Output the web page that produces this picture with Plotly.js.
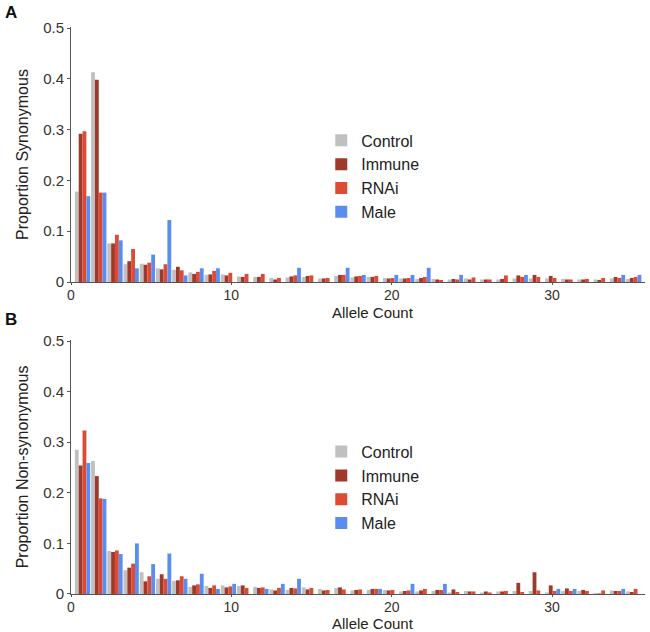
<!DOCTYPE html>
<html>
<head>
<meta charset="utf-8">
<script src="https://cdn.plot.ly/plotly-3.0.1.min.js"></script>
<style>html,body{margin:0;padding:0;background:#fff;}#chart{width:650px;height:632px;}</style>
</head>
<body>
<div id="chart"></div>
<script>
// ---- Data ----
const alleleCounts = [1,2,3,4,5,6,7,8,9,10,11,12,13,14,15,16,17,18,19,20,21,22,23,24,25,26,27,28,29,30,31,32,33,34,35];
const seriesNames = ["Control", "Immune", "RNAi", "Male"];

// Panel A: Proportion Synonymous
const synControl = [0.178,0.413,0.076,0.035,0.036,0.027,0.024,0.019,0.014,0.015,0.011,0.010,0.008,0.009,0.010,0.007,0.012,0.009,0.010,0.008,0.007,0.006,0.006,0.005,0.007,0.005,0.005,0.007,0.007,0.007,0.006,0.005,0.005,0.007,0.006];
const synImmune  = [0.292,0.398,0.076,0.041,0.034,0.025,0.030,0.016,0.015,0.013,0.010,0.010,0.005,0.011,0.012,0.007,0.014,0.011,0.010,0.007,0.007,0.008,0.005,0.006,0.005,0.005,0.006,0.013,0.014,0.012,0.005,0.005,0.004,0.010,0.008];
const synRNAi    = [0.297,0.176,0.093,0.065,0.038,0.035,0.023,0.020,0.022,0.018,0.016,0.016,0.008,0.013,0.013,0.008,0.014,0.012,0.012,0.008,0.008,0.010,0.004,0.005,0.009,0.005,0.013,0.010,0.010,0.008,0.005,0.006,0.008,0.008,0.010];
const synMale    = [0.169,0.176,0.082,0.027,0.054,0.122,0.013,0.027,0.027,0,0,0,0,0.028,0,0,0.028,0.014,0,0.014,0.014,0.028,0,0.014,0,0,0,0.014,0,0,0,0,0,0.014,0.014];

// Panel B: Proportion Non-synonymous
const nonControl = [0.285,0.263,0.085,0.047,0.043,0.030,0.026,0.014,0.016,0.017,0.016,0.014,0.009,0.008,0.013,0.010,0.012,0.007,0.008,0.008,0.005,0.005,0.006,0.003,0.006,0.003,0.005,0.006,0.006,0.003,0.006,0.006,0.002,0.007,0.005];
const nonImmune  = [0.254,0.233,0.083,0.052,0.025,0.039,0.027,0.017,0.012,0.013,0.017,0.012,0.007,0.012,0.009,0.007,0.013,0.008,0.010,0.007,0.006,0.007,0.008,0.009,0.005,0.005,0.005,0.022,0.043,0.017,0.011,0.008,0.001,0.006,0.004];
const nonRNAi    = [0.323,0.189,0.086,0.060,0.035,0.030,0.035,0.019,0.017,0.015,0.012,0.013,0.012,0.011,0.012,0.008,0.009,0.009,0.010,0.008,0.007,0.010,0.008,0.004,0.005,0.003,0.006,0.004,0.007,0.006,0.006,0.006,0.007,0.006,0.010];
const nonMale    = [0.259,0.188,0.079,0.100,0.059,0.080,0.030,0.040,0.010,0.020,0,0.010,0.020,0.030,0,0,0,0,0.010,0,0.020,0,0.020,0,0,0,0,0,0,0.010,0.010,0,0,0.010,0];

const xTickVals = [0, 10, 20, 30];
const xTickText = ["0", "10", "20", "30"];
const yTickVals = [0, 0.1, 0.2, 0.3, 0.4, 0.5];
const yTickText = ["0", "0.1", "0.2", "0.3", "0.4", "0.5"];
const xTitle = "Allele Count";
const yTitleA = "Proportion Synonymous";
const yTitleB = "Proportion Non-synonymous";

// ---- Styling ----
const colors = ["#c0c0c0", "#9e3a2b", "#dc4b34", "#5b8cf0"];
const FONT = "Liberation Sans, Arial, sans-serif";

// group centres on the allele axis (groups sit slightly left of the integer)
const xPos = alleleCounts.map(k => 0.72 + (k - 1) * 1.011);

const synSeries = [synControl, synImmune, synRNAi, synMale];
const nonSeries = [nonControl, nonImmune, nonRNAi, nonMale];

const traces = [];
seriesNames.forEach((name, i) => {
  traces.push({
    type: "bar", name: name, x: xPos, y: synSeries[i],
    xaxis: "x", yaxis: "y", legend: "legend",
    marker: {color: colors[i], line: {width: 0}},
    hoverinfo: "skip"
  });
});
seriesNames.forEach((name, i) => {
  traces.push({
    type: "bar", name: name, x: xPos, y: nonSeries[i],
    xaxis: "x2", yaxis: "y2", legend: "legend2",
    marker: {color: colors[i], line: {width: 0}},
    hoverinfo: "skip"
  });
});

function xAxis(anchor) {
  return {
    anchor: anchor, domain: [0, 1], range: [0, 35.8],
    tickvals: xTickVals, ticktext: xTickText,
    showgrid: false, zeroline: false, showline: true,
    linecolor: "#555", linewidth: 1,
    ticks: "outside", ticklen: 2, tickcolor: "#555", ticklabelstandoff: -2,
    tickfont: {family: FONT, size: 14, color: "#333"},
    automargin: false, fixedrange: true
  };
}
function yAxis(anchor, domain, title) {
  return {
    anchor: anchor, domain: domain, range: [0, 0.502],
    tickvals: yTickVals, ticktext: yTickText,
    showgrid: false, zeroline: false, showline: true,
    linecolor: "#555", linewidth: 1,
    ticks: "outside", ticklen: 3, tickcolor: "#555",
    tickfont: {family: FONT, size: 15, color: "#333"},
    title: {text: title, font: {family: FONT, size: 16, color: "#222"}, standoff: 10},
    automargin: false, fixedrange: true
  };
}

const legendStyle = {
  xanchor: "left", yanchor: "top",
  bgcolor: "rgba(0,0,0,0)", borderwidth: 0,
  font: {family: FONT, size: 16, color: "#222"},
  traceorder: "normal"
};

const titleFont = {family: FONT, size: 15, color: "#222"};

const layout = {
  width: 650, height: 632,
  margin: {l: 71, r: 5, t: 20, b: 8},
  paper_bgcolor: "#fff", plot_bgcolor: "#fff",
  barmode: "group", bargap: 0.055, bargroupgap: 0,
  showlegend: true,
  xaxis: xAxis("y"),
  yaxis: yAxis("x", [0.5662, 0.9884], yTitleA),
  xaxis2: xAxis("y2"),
  yaxis2: yAxis("x2", [0.0497, 0.4702], yTitleB),
  legend: Object.assign({x: 0.436, y: 0.8287}, legendStyle),
  legend2: Object.assign({x: 0.436, y: 0.3134}, legendStyle),
  annotations: [
    {text: xTitle, xref: "paper", yref: "paper", x: 0.526, y: 0.5315, xanchor: "center", yanchor: "top",
     showarrow: false, font: titleFont, borderpad: 0},
    {text: xTitle, xref: "paper", yref: "paper", x: 0.526, y: 0.0166, xanchor: "center", yanchor: "top",
     showarrow: false, font: titleFont, borderpad: 0},
    {text: "<b>A</b>", xref: "paper", yref: "paper", x: -0.105, y: 1.0128, xanchor: "center", yanchor: "middle",
     showarrow: false, font: {family: FONT, size: 17, color: "#111"}},
    {text: "<b>B</b>", xref: "paper", yref: "paper", x: -0.105, y: 0.5038, xanchor: "center", yanchor: "middle",
     showarrow: false, font: {family: FONT, size: 17, color: "#111"}}
  ]
};

Plotly.newPlot("chart", traces, layout, {staticPlot: true, displayModeBar: false});
</script>
</body>
</html>
